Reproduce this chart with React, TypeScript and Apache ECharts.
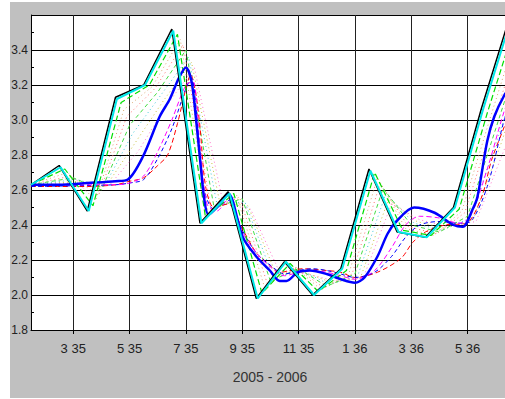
import React, { useEffect, useRef } from "react";
import * as echarts from "echarts";

// x = month index from first data point (mid Jan 2005 = 0)
const xTickValues = [1.5, 3.5, 5.5, 7.5, 9.5, 11.5, 13.5, 15.5];
const xTickLabels = ["3 35", "5 35", "7 35", "9 35", "11 35", "1 36", "3 36", "5 36"];
const yMin = 1.8;
const yMax = 3.6;
const yStep = 0.2;
const xTitle = "2005 - 2006";

const rawData = [
  [0, 2.63], [1, 2.74], [2, 2.48], [3, 3.13], [4, 3.2], [5, 3.52], [6, 2.41], [7, 2.59], [8, 1.98],
  [9, 2.19], [10, 2.0], [11, 2.15], [12, 2.72], [13, 2.36], [14, 2.33], [15, 2.5], [16, 3.07], [17, 3.59],
];
const cyanData = [
  [0, 2.63], [1.05, 2.73], [2.05, 2.48], [3.05, 3.12], [4.05, 3.2], [5.05, 3.51], [6.05, 2.41], [7.05, 2.58],
  [8.05, 1.98], [9.05, 2.19], [10.05, 2.0], [11.05, 2.15], [12.05, 2.71], [13.05, 2.36], [14.05, 2.33],
  [15.05, 2.5], [16.05, 3.06], [17.05, 3.58],
];
const green1Data = [
  [0, 2.63], [1.2, 2.72], [2.2, 2.51], [3.2, 3.1], [4.2, 3.2], [5.2, 3.49], [6.2, 2.44], [7.2, 2.58],
  [8.2, 2.01], [9.2, 2.18], [10.2, 2.02], [11.2, 2.14], [12.2, 2.7], [13.2, 2.37], [14.2, 2.34],
  [15.2, 2.49], [16.2, 3.04], [17.2, 3.55],
];
const tanData = [
  [0, 2.63], [1.3, 2.7], [2.3, 2.54], [3.3, 3.06], [4.3, 3.19], [5.3, 3.46], [6.3, 2.46], [7.3, 2.57],
  [8.3, 2.04], [9.3, 2.17], [10.3, 2.03], [11.3, 2.13], [12.3, 2.67], [13.3, 2.38], [14.3, 2.34],
  [15.3, 2.48], [16.3, 3.01], [17.3, 3.52],
];
const salmonData = [
  [0, 2.63], [1.4, 2.68], [2.4, 2.57], [3.4, 3.02], [4.4, 3.18], [5.4, 3.43], [6.4, 2.48], [7.4, 2.56],
  [8.4, 2.06], [9.4, 2.16], [10.4, 2.04], [11.4, 2.12], [12.4, 2.64], [13.4, 2.39], [14.4, 2.35],
  [15.4, 2.47], [16.4, 2.98], [17.4, 3.49],
];
const green2Data = [
  [0, 2.63], [1.5, 2.67], [2.5, 2.6], [3.5, 2.97], [4.5, 3.16], [5.5, 3.4], [6.5, 2.5], [7.5, 2.55],
  [8.5, 2.08], [9.5, 2.15], [10.5, 2.05], [11.5, 2.12], [12.5, 2.61], [13.5, 2.4], [14.5, 2.36],
  [15.5, 2.45], [16.5, 2.95], [17.5, 3.45],
];
const tealData = [
  [0, 2.63], [1.6, 2.66], [2.6, 2.62], [3.6, 2.92], [4.6, 3.14], [5.6, 3.36], [6.6, 2.52], [7.6, 2.53],
  [8.6, 2.1], [9.6, 2.14], [10.6, 2.06], [11.6, 2.11], [12.6, 2.58], [13.6, 2.41], [14.6, 2.37],
  [15.6, 2.44], [16.6, 2.91], [17.6, 3.4],
];
const yellowData = [
  [0, 2.63], [1.7, 2.65], [2.7, 2.63], [3.7, 2.87], [4.7, 3.11], [5.7, 3.33], [6.7, 2.53], [7.7, 2.51],
  [8.7, 2.12], [9.7, 2.13], [10.7, 2.07], [11.7, 2.1], [12.7, 2.55], [13.7, 2.42], [14.7, 2.38],
  [15.7, 2.43], [16.7, 2.87], [17.7, 3.36],
];
const pinkData = [
  [0, 2.63], [1.8, 2.64], [2.8, 2.63], [3.8, 2.82], [4.8, 3.08], [5.8, 3.3], [6.8, 2.54], [7.8, 2.49],
  [8.8, 2.14], [9.8, 2.12], [10.8, 2.08], [11.8, 2.1], [12.8, 2.52], [13.8, 2.43], [14.8, 2.39],
  [15.8, 2.42], [16.8, 2.83], [17.8, 3.31],
];
const blueData = [
  [0, 2.63], [1, 2.63], [2, 2.64], [3, 2.65], [3.44, 2.66], [3.97, 2.79], [4.57, 3.02], [4.93, 3.12],
  [5.25, 3.24], [5.5, 3.3], [5.7, 3.22], [5.85, 3.02], [6.03, 2.73], [6.15, 2.55], [6.3, 2.46],
  [6.7, 2.52], [7.0, 2.58], [7.52, 2.33], [8.0, 2.22], [8.48, 2.14], [8.83, 2.08], [9.07, 2.08],
  [9.47, 2.13], [9.9, 2.14], [10.5, 2.12], [11.0, 2.09], [11.5, 2.07], [11.84, 2.1], [12.3, 2.22],
  [12.66, 2.35], [12.97, 2.42], [13.6, 2.5], [14.33, 2.47], [15.0, 2.4], [15.33, 2.39], [15.68, 2.49],
  [15.85, 2.56], [16.2, 2.88], [16.45, 3.02], [16.8, 3.14], [17.0, 3.18],
];
const magentaData = [
  [0, 2.63], [3, 2.63], [3.5, 2.64], [4, 2.68], [4.5, 2.82], [5, 3.0], [5.5, 3.2], [5.75, 3.22],
  [6.0, 2.85], [6.25, 2.52], [6.6, 2.48], [7.0, 2.55], [7.5, 2.36], [8.0, 2.24], [8.5, 2.16],
  [9.0, 2.11], [9.5, 2.13], [10.0, 2.14], [10.5, 2.13], [11.0, 2.11], [11.5, 2.09], [12.2, 2.14],
  [12.8, 2.27], [13.3, 2.4], [13.8, 2.45], [14.5, 2.44], [15.2, 2.41], [15.6, 2.45], [16.2, 2.72],
  [16.8, 3.05], [17.0, 3.12],
];
const blueDashData = [
  [0, 2.62], [3, 2.63], [3.5, 2.64], [4, 2.66], [4.5, 2.78], [5, 2.95], [5.5, 3.18], [5.7, 3.24],
  [5.9, 3.0], [6.15, 2.6], [6.5, 2.49], [7.0, 2.54], [7.5, 2.37], [8.0, 2.24], [8.5, 2.17], [9.0, 2.12],
  [9.5, 2.14], [10.0, 2.15], [10.5, 2.14], [11.0, 2.12], [11.5, 2.1], [12.2, 2.13], [12.8, 2.22],
  [13.3, 2.33], [13.8, 2.4], [14.5, 2.42], [15.2, 2.41], [15.6, 2.42], [16.2, 2.62], [16.8, 3.0],
  [17.0, 3.08],
];
const redData = [
  [0, 2.62], [1, 2.62], [2, 2.62], [3, 2.63], [3.5, 2.65], [4.0, 2.67], [4.5, 2.74], [4.85, 2.8],
  [5.2, 2.98], [5.5, 3.18], [5.67, 3.26], [5.85, 3.15], [6.0, 2.96], [6.2, 2.62], [6.5, 2.5],
  [7.0, 2.52], [7.5, 2.38], [8.0, 2.24], [8.35, 2.19], [8.83, 2.13], [9.65, 2.15], [10.5, 2.14],
  [11.0, 2.13], [11.5, 2.1], [12.3, 2.13], [13.14, 2.21], [13.55, 2.3], [14.0, 2.36], [14.7, 2.4],
  [15.45, 2.41], [16.0, 2.56], [16.35, 2.77], [16.8, 2.96], [17.0, 3.05],
];

const FONT = '"Liberation Sans Narrow", "Arial Narrow", "Liberation Sans", Arial, sans-serif';

function line(name: string, data: number[][], color: string, width: number, type: any, smooth: any = false) {
  return {
    name,
    type: "line",
    data,
    symbol: "none",
    showSymbol: false,
    smooth,
    clip: true,
    lineStyle: { color, width, type },
  };
}

export default function App() {
  const ref = useRef<HTMLDivElement>(null);
  useEffect(() => {
    if (!ref.current) return;
    const chart = echarts.init(ref.current, undefined, { renderer: "svg" });
    const option: any = {
      animation: false,
      backgroundColor: "#c0c0c0",
      grid: { left: 31, top: 15, right: 4, bottom: 69, show: true, backgroundColor: "#ffffff", borderWidth: 0 },
      xAxis: {
        type: "value",
        min: 0,
        max: 17.22,
        axisLine: { show: true, lineStyle: { color: "#000", width: 1 } },
        axisTick: { show: true, customValues: xTickValues, length: 4, lineStyle: { color: "#000" } },
        axisLabel: {
          customValues: xTickValues,
          formatter: (v: number) => {
            const i = xTickValues.findIndex((t) => Math.abs(t - v) < 1e-6);
            return i >= 0 ? xTickLabels[i] : "";
          },
          margin: 12,
          fontSize: 13,
          fontFamily: FONT,
          color: "#222",
        },
        splitLine: { show: true, lineStyle: { color: "#222", width: 1 } },
      },
      yAxis: {
        type: "value",
        min: yMin,
        max: yMax,
        interval: yStep,
        axisLine: { show: true, lineStyle: { color: "#000", width: 1 } },
        axisTick: { show: false, inside: true },
        minorTick: { show: true, splitNumber: 2, length: 3, lineStyle: { color: "#000", width: 1 } },
        axisLabel: {
          formatter: (v: number) => (Math.abs(v - yMax) < 1e-6 ? "" : v.toFixed(1)),
          margin: 3,
          fontSize: 12,
          fontFamily: FONT,
          color: "#222",
        },
        splitLine: { show: true, lineStyle: { color: "#000", width: 1 } },
      },
      graphic: [
        { type: "rect", shape: { x: 0, y: 0, width: 10, height: 399 }, style: { fill: "#ffffff" }, silent: true },
        { type: "rect", shape: { x: 0, y: 0, width: 520, height: 2 }, style: { fill: "#ffffff" }, silent: true },
        { type: "rect", shape: { x: 0, y: 398, width: 520, height: 1 }, style: { fill: "#ffffff" }, silent: true },
        {
          type: "text",
          x: 270,
          y: 377,
          style: { text: xTitle, fill: "#333", font: `14px ${FONT}`, textAlign: "center", textVerticalAlign: "middle" },
          silent: true,
        },
      ],
      series: [
        line("pink", pinkData, "#ff77cc", 1, [1, 3]),
        line("yellow", yellowData, "#c8c040", 1, [1, 3]),
        line("teal", tealData, "#40c8d8", 1, [1, 3]),
        line("salmon", salmonData, "#ff7070", 1, [1, 3]),
        line("tan", tanData, "#d8a870", 1, [1, 3]),
        line("green2", green2Data, "#44dd44", 1, [4, 3]),
        line("red", redData, "#ff0000", 1, [5, 3], 0.3),
        line("blueDash", blueDashData, "#0000ff", 1, [4, 3], 0.3),
        line("magenta", magentaData, "#ff00ff", 1, [5, 3], 0.3),
        line("green1", green1Data, "#00e000", 1.2, [6, 3]),
        line("blue", blueData, "#0000ff", 2.5, "solid", 0.3),
        line("raw", rawData, "#000000", 1.5, "solid"),
        line("cyan", cyanData, "#00e8e8", 2, "solid"),
      ],
    };
    chart.setOption(option);
    return () => chart.dispose();
  }, []);
  return (
    <div style={{ position: "fixed", left: 0, top: 0, width: 505, height: 399, background: "#fff", overflow: "hidden" }}>
      <div ref={ref} style={{ width: 520, height: 399 }} />
    </div>
  );
}
